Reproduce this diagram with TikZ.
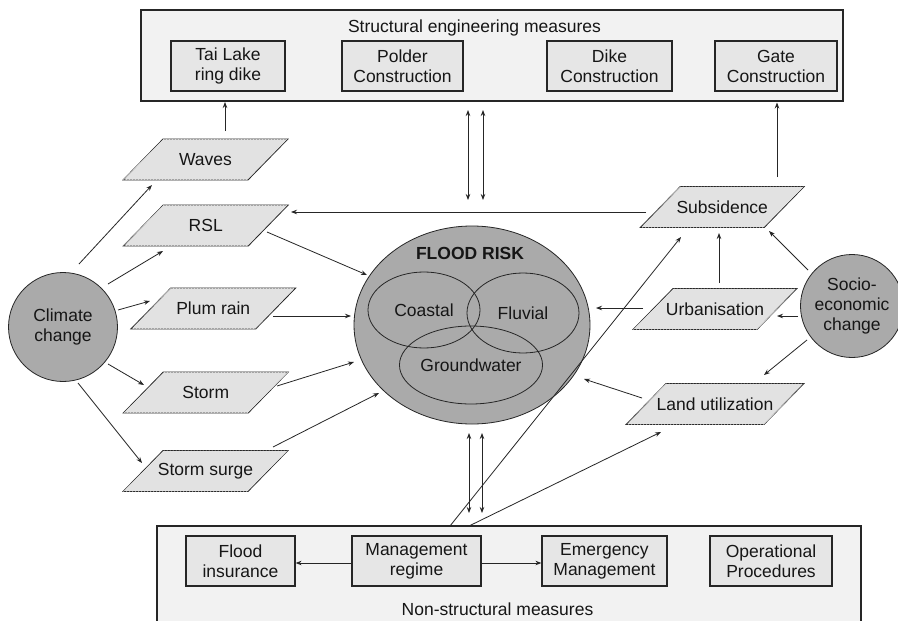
\documentclass[tikz,border=0pt]{standalone}
\usepackage{fontspec}
\setmainfont{Liberation Sans}
\usetikzlibrary{arrows.meta,patterns,shapes.geometric}

\definecolor{ink}{HTML}{161616}
\definecolor{edge}{HTML}{262626}
\definecolor{panelfill}{HTML}{F2F2F2}
\definecolor{boxfill}{HTML}{E6E6E6}
\definecolor{parafill}{HTML}{E2E2E2}
\definecolor{discfill}{HTML}{AAAAAA}

% parallelogram with its label: name, centre x, centre y, top-edge width, text
\newcommand\Para[5]{%
  \path[parashape] (#2,#3) ++(-#4/2+20,-20.5) -- ++(#4,0) -- ++(-40,41) -- ++(-#4,0) -- cycle;
  \node[paratext] (#1) at (#2,#3) {#5};}

\begin{document}
\begin{tikzpicture}[x=1pt,y=-1pt,
  every node/.style={text=ink,font=\fontsize{17.5}{20}\selectfont},
  panel/.style={draw=edge,line width=1.3pt,fill=panelfill,inner sep=0pt},
  measure/.style={draw=edge,line width=1.2pt,fill=boxfill,align=center,inner sep=0pt,minimum height=50},
  disc/.style={draw=edge,line width=0.8pt,fill=discfill,circle,align=center,inner sep=0pt},
  ring/.style={draw=edge,line width=0.8pt,ellipse,inner sep=0pt},
  parashape/.style={draw=edge,line width=0.8pt,fill=parafill,
    postaction={pattern=north east lines,pattern color=gray!22}},
  paratext/.style={inner sep=1pt},
  arr/.style={draw=edge,line width=0.8pt,-{Stealth[length=6pt,width=4.5pt]}},
  dbl/.style={draw=edge,line width=0.8pt,{Stealth[length=6pt,width=4.5pt]}-{Stealth[length=6pt,width=4.5pt]}}]

\useasboundingbox (0,0) rectangle (898,621);
\fill[white] (0,0) rectangle (898,621);

% structural measures panel
\node[panel,minimum width=702,minimum height=91] (sem) at (492,55.5) {};
\node (semtitle) at (474.5,28) {Structural engineering measures};
\node[measure,minimum width=114] (tai) at (228,66) {Tai Lake\\ring dike};
\node[measure,minimum width=121] (polder) at (402.5,66) {Polder\\Construction};
\node[measure,minimum width=125] (dike) at (609.5,66) {Dike\\Construction};
\node[measure,minimum width=122] (gate) at (776,66) {Gate\\Construction};

% non-structural measures panel
\node[panel,minimum width=704,minimum height=100] (nsm) at (509,576) {};
\node (nsmtitle) at (497.5,609) {Non-structural measures};
\node[measure,minimum width=109] (fi) at (240.5,561) {Flood\\insurance};
\node[measure,minimum width=129] (mgmt) at (416.5,561) {Management\\regime};
\node[measure,minimum width=125] (em) at (604.5,561) {Emergency\\Management};
\node[measure,minimum width=122] (op) at (771,561) {Operational\\Procedures};

% drivers
\node[disc,minimum size=109] (cc) at (63,327) {Climate\\change};
\node[disc,minimum size=103] (se) at (852,306) {Socio-\\economic\\change};

% flood risk
\node[ring,fill=discfill,minimum width=236,minimum height=198] (flood) at (472,325) {};
\node[font=\fontsize{17.5}{20}\selectfont\bfseries] (frtitle) at (470,253) {FLOOD RISK};
\node[ring,minimum width=112,minimum height=76] (coastal) at (424,310) {Coastal};
\node[ring,minimum width=112,minimum height=80] (fluvial) at (523,313) {Fluvial};
\node[ring,minimum width=110,minimum height=78] (ground) at (471,365) {Groundwater};

% pressures
\Para{waves}{205.5}{159.5}{125}{Waves}
\Para{rsl}{205.75}{225.5}{125}{RSL}
\Para{plum}{213.25}{308.5}{125}{Plum rain}
\Para{storm}{205.75}{392.5}{125}{Storm}
\Para{surge}{205.5}{471}{125}{Storm surge}
\Para{subs}{722.25}{207}{124}{Subsidence}
\Para{urb}{715}{309}{124}{Urbanisation}
\Para{land}{715}{404}{138}{Land utilization}

% climate change links
\draw[arr] ([shift={(16,-63)}]cc.center) -- ([shift={(-53.5,25.5)}]waves.center);
\draw[arr] ([shift={(45,-43)}]cc.center) -- ([shift={(-42.75,25.5)}]rsl.center);
\draw[arr] ([shift={(55,-17)}]cc.center) -- ([shift={(-63.25,-7.5)}]plum.center);
\draw[arr] ([shift={(45,37)}]cc.center) -- ([shift={(-61.75,-7.5)}]storm.center);
\draw[arr] ([shift={(15,56)}]cc.center) -- ([shift={(-63.5,-8)}]surge.center);

% pressures into flood risk
\draw[arr] ([shift={(61.25,6.5)}]rsl.center) -- ([shift={(-105,-50)}]flood.center);
\draw[arr] ([shift={(59.75,7.5)}]plum.center) -- ([shift={(-121,-9)}]flood.center);
\draw[arr] ([shift={(71.25,-6.5)}]storm.center) -- ([shift={(-118,37)}]flood.center);
\draw[arr] ([shift={(67.5,-24)}]surge.center) -- ([shift={(-93,68)}]flood.center);
\draw[arr] ([shift={(-72,-1)}]urb.center) -- ([shift={(124,-17)}]flood.center);
\draw[arr] ([shift={(-73,-6)}]land.center) -- ([shift={(112,54)}]flood.center);

% pressures into structural measures
\draw[arr] ([shift={(19.5,-28.5)}]waves.center) -- ([shift={(-267,46.5)}]sem.center);
\draw[arr] ([shift={(54.75,-30)}]subs.center) -- ([shift={(285,47)}]sem.center);

% socio-economic links
\draw[arr] ([shift={(-76.25,5)}]subs.center) -- ([shift={(85.25,-13.5)}]rsl.center);
\draw[arr] ([shift={(4,-26)}]urb.center) -- ([shift={(-3.25,26)}]subs.center);
\draw[arr] ([shift={(-44,-36)}]se.center) -- ([shift={(46.75,24)}]subs.center);
\draw[arr] ([shift={(-54,10)}]se.center) -- ([shift={(62,7)}]urb.center);
\draw[arr] ([shift={(-45,34)}]se.center) -- ([shift={(49,-29)}]land.center);

% two-way links between measures and flood risk
\draw[dbl] ([shift={(-24,54.5)}]sem.center) -- ([shift={(-4,-125)}]flood.center);
\draw[dbl] ([shift={(-9,54.5)}]sem.center) -- ([shift={(11,-125)}]flood.center);
\draw[dbl] ([shift={(-3,108)}]flood.center) -- ([shift={(-40,-63)}]nsm.center);
\draw[dbl] ([shift={(10,108)}]flood.center) -- ([shift={(-27,-63)}]nsm.center);

% management regime links
\draw[arr] ([shift={(-59,-50)}]nsm.center) -- ([shift={(-41.25,30)}]subs.center);
\draw[arr] ([shift={(-40,-50)}]nsm.center) -- ([shift={(-54,28)}]land.center);
\draw[arr] ([yshift=-2]mgmt.west) -- ([yshift=-2]fi.east);
\draw[arr] ([yshift=-2]mgmt.east) -- ([yshift=-2]em.west);
\end{tikzpicture}
\end{document}
